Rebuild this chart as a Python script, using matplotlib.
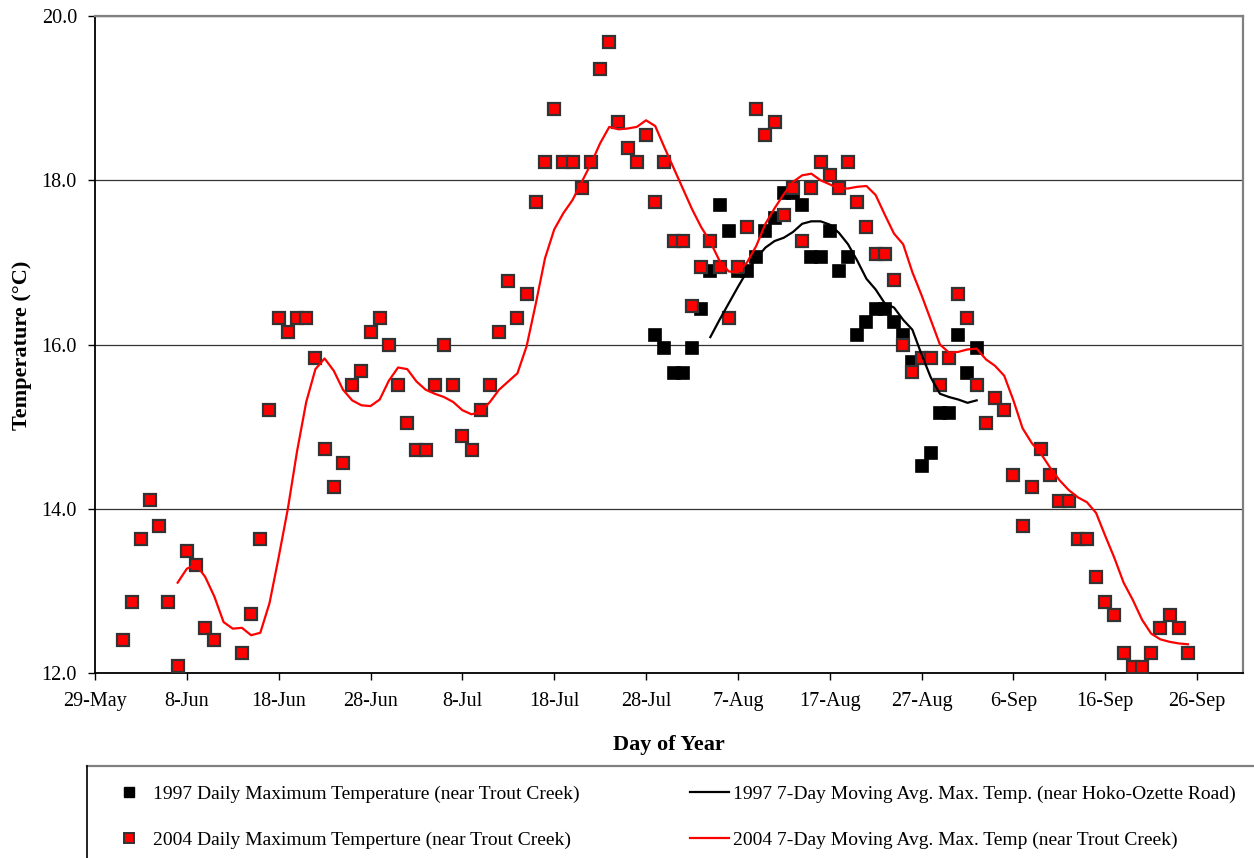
import numpy as np
import matplotlib; matplotlib.use("Agg"); import matplotlib.pyplot as plt
from matplotlib.lines import Line2D

plt.rcParams["font.family"] = ["Liberation Serif", "DejaVu Serif"]

# x = days after 29-May
tick_days = [0, 10, 20, 30, 40, 50, 60, 70, 80, 90, 100, 110, 120]
tick_labels = ["29-May", "8-Jun", "18-Jun", "28-Jun", "8-Jul", "18-Jul", "28-Jul",
               "7-Aug", "17-Aug", "27-Aug", "6-Sep", "16-Sep", "26-Sep"]

# 2004 daily max, days 3..119 (nan = no reading)
red_start = 3
red_max = [12.40, 12.87, 13.63, 14.11, 13.79, 12.87, 12.09, 13.49, 13.32, 12.55,
           12.40, np.nan, np.nan, 12.24, 12.72, 13.63, 15.20, 16.32, 16.15, 16.32,
           16.32, 15.83, 14.73, 14.26, 14.56, 15.51, 15.68, 16.15, 16.32, 15.99,
           15.51, 15.04, 14.72, 14.72, 15.51, 15.99, 15.51, 14.88, 14.72, 15.20,
           15.51, 16.15, 16.77, 16.32, 16.62, 17.73, 18.22, 18.87, 18.22, 18.22,
           17.90, 18.22, 19.35, 19.68, 18.71, 18.39, 18.22, 18.55, 17.73, 18.22,
           17.26, 17.26, 16.47, 16.94, 17.26, 16.94, 16.32, 16.94, 17.43, 18.87,
           18.55, 18.71, 17.58, 17.90, 17.26, 17.90, 18.22, 18.06, 17.90, 18.22,
           17.73, 17.43, 17.10, 17.10, 16.78, 15.99, 15.67, 15.83, 15.83, 15.51,
           15.83, 16.62, 16.32, 15.51, 15.04, 15.35, 15.20, 14.41, 13.79, 14.26,
           14.73, 14.41, 14.10, 14.10, 13.63, 13.63, 13.17, 12.87, 12.71, 12.24,
           12.07, 12.07, 12.24, 12.55, 12.71, 12.55, 12.24]

# 1997 daily max, days 61..96
blk_start = 61
blk_max = [16.11, 15.96, 15.65, 15.65, 15.96, 16.43, 16.90, 17.70, 17.38, 16.90,
           16.90, 17.06, 17.38, 17.54, 17.85, 17.85, 17.70, 17.06, 17.06, 17.38,
           16.90, 17.06, 16.11, 16.27, 16.43, 16.43, 16.27, 16.11, 15.79, 14.52,
           14.68, 15.16, 15.16, 16.11, 15.65, 15.96]

# 7-day moving averages
red_avg_start = 9
red_avg = [13.10, 13.27, 13.32, 13.17, 12.93, 12.62, 12.54, 12.55, 12.46, 12.49,
           12.85, 13.41, 14.00, 14.70, 15.30, 15.70, 15.83, 15.68, 15.45, 15.32,
           15.26, 15.25, 15.33, 15.56, 15.72, 15.70, 15.55, 15.45, 15.40, 15.36,
           15.30, 15.20, 15.15, 15.18, 15.30, 15.45, 15.55, 15.65, 15.98, 16.50,
           17.05, 17.40, 17.60, 17.76, 17.98, 18.20, 18.45, 18.65, 18.62, 18.63,
           18.65, 18.73, 18.66, 18.40, 18.15, 17.90, 17.65, 17.43, 17.25, 17.02,
           16.89, 16.88, 17.00, 17.20, 17.47, 17.66, 17.83, 17.98, 18.06, 18.08,
           18.00, 17.95, 17.90, 17.90, 17.92, 17.93, 17.82, 17.58, 17.35, 17.22,
           16.88, 16.60, 16.30, 16.00, 15.90, 15.91, 15.94, 15.95, 15.82, 15.74,
           15.62, 15.32, 14.98, 14.80, 14.67, 14.50, 14.35, 14.23, 14.14, 14.08,
           13.95, 13.67, 13.40, 13.10, 12.89, 12.65, 12.48, 12.41, 12.38, 12.36,
           12.35]
blk_avg_start = 67
blk_avg = [16.09, 16.30, 16.50, 16.70, 16.89, 17.05, 17.18, 17.26, 17.30, 17.37,
           17.47, 17.50, 17.50, 17.46, 17.36, 17.22, 17.02, 16.80, 16.67, 16.50,
           16.45, 16.30, 16.18, 15.88, 15.60, 15.40, 15.36, 15.33, 15.29, 15.32]

labels = ["1997 Daily Maximum Temperature (near Trout Creek)",
          "2004 Daily Maximum Temperture (near Trout Creek)",
          "1997 7-Day Moving Avg. Max. Temp. (near Hoko-Ozette Road)",
          "2004 7-Day Moving Avg. Max. Temp (near Trout Creek)"]

fig = plt.figure(figsize=(12.54, 8.58), dpi=100)
ax = fig.add_axes([95/1254, 1-673/858, (1243-95)/1254, (673-16)/858])

xr = red_start + np.arange(len(red_max))
xb = blk_start + np.arange(len(blk_max))
ax.plot(xb, blk_max, ls="none", marker="s", ms=9, mfc="black", mec="black", mew=1.2, zorder=3)
ax.plot(xr, red_max, ls="none", marker="s", ms=8.3, mfc="#ff0000", mec="#333333", mew=1.6, zorder=4)
ax.plot(blk_avg_start + np.arange(len(blk_avg)), blk_avg, color="black", lw=1.6, zorder=5)
ax.plot(red_avg_start + np.arange(len(red_avg)), red_avg, color="#ff0000", lw=1.6, zorder=6)

ax.set_xlim(0, 125)
ax.set_ylim(12, 20)
ax.set_xticks(tick_days)
ax.set_xticklabels(tick_labels)
ax.set_yticks([12, 14, 16, 18, 20])
ax.set_yticklabels([f"{v:.1f}" for v in [12, 14, 16, 18, 20]])
ax.tick_params(axis="x", direction="out", length=5, width=1, labelsize=14.5, pad=9)
ax.tick_params(axis="y", direction="out", length=5, width=1, labelsize=14.5, pad=8)
ax.grid(axis="y", color="#333333", lw=0.9)
ax.set_axisbelow(True)
for s in ["left", "bottom"]:
    ax.spines[s].set_color("black"); ax.spines[s].set_linewidth(1.3)
for s in ["top", "right"]:
    ax.spines[s].set_color("#808080"); ax.spines[s].set_linewidth(1.6)

fig.text(669/1254, 1-745/858, "Day of Year", ha="center", va="center", fontsize=16, fontweight="bold")
fig.text(22/1254, 1-345/858, "Temperature (°C)", ha="center", va="center", rotation=90,
         fontsize=16, fontweight="bold")

# legend box (runs off the bottom/right edge like the original)
fig.add_artist(Line2D([87/1254, 1.0], [1-766/858]*2, color="#808080", lw=1.6, transform=fig.transFigure))
fig.add_artist(Line2D([87/1254]*2, [0, 1-766/858], color="black", lw=1.2, transform=fig.transFigure))

h_mk = [Line2D([], [], ls="none", marker="s", ms=7, mfc="black", mec="black"),
        Line2D([], [], ls="none", marker="s", ms=6.5, mfc="#ff0000", mec="#333333", mew=1.4)]
h_ln = [Line2D([], [], color="black", lw=1.6), Line2D([], [], color="#ff0000", lw=1.6)]
kw = dict(loc="upper left", frameon=False, fontsize=14, borderpad=0, borderaxespad=0,
          handlelength=2.0, handletextpad=0.2, labelspacing=1.45)
fig.legend(h_mk, labels[:2], bbox_to_anchor=(110/1254, 1-785/858), **kw)
fig.legend(h_ln, labels[2:], bbox_to_anchor=(690/1254, 1-785/858), **kw)

fig.savefig("out.png", dpi=100)
